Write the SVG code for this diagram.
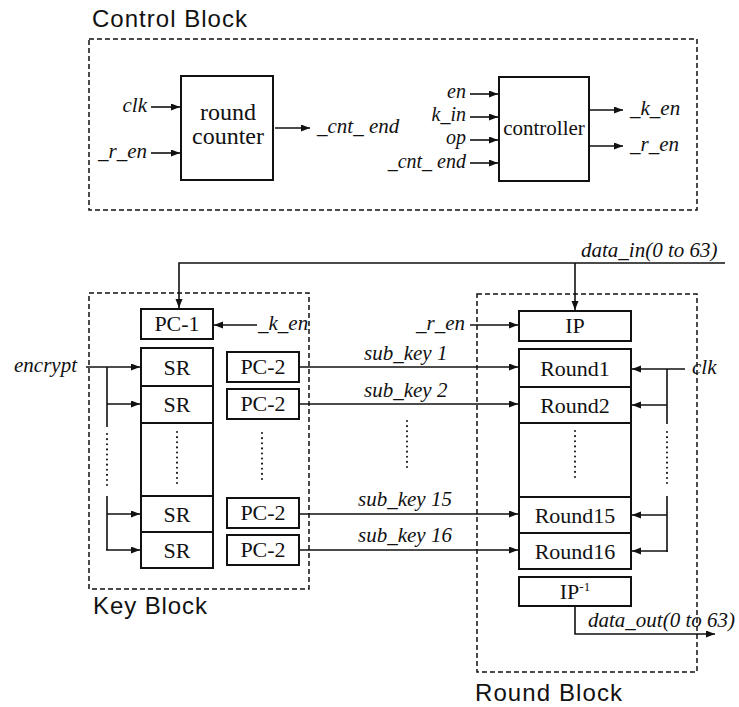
<svg xmlns="http://www.w3.org/2000/svg" width="739" height="707" viewBox="0 0 739 707">
<style>
.bg{fill:#fff}
.title{font-family:"Liberation Sans",Arial,sans-serif;font-size:24px;fill:#111}
.box{fill:#fff;stroke:#111;stroke-width:2}
.dash{fill:none;stroke:#111;stroke-width:1.5;stroke-dasharray:5,3}
.bt{font-family:"Liberation Serif","Times New Roman",serif;font-size:22px;fill:#111;text-anchor:middle}
.lbl{font-family:"Liberation Serif","Times New Roman",serif;font-style:italic;font-size:21px;fill:#111}
.sm{font-size:20px}
.end{text-anchor:end}
.ln{fill:none;stroke:#111;stroke-width:1.6}
.arr{marker-end:url(#ah)}
.dot{fill:none;stroke:#111;stroke-width:2;stroke-dasharray:0.1,5;stroke-linecap:round}
</style>
<defs>
<marker id="ah" markerUnits="userSpaceOnUse" markerWidth="10" markerHeight="8" refX="9" refY="3.5" orient="auto">
<path d="M0,0 L9,3.5 L0,7 z" fill="#111"/>
</marker>
</defs>
<rect class="bg" x="0" y="0" width="739" height="707"/>

<g id="control-block">
<text class="title" x="92" y="27" textLength="155" lengthAdjust="spacing">Control Block</text>
<rect class="dash" x="89" y="39" width="608" height="171"/>
</g>
<g id="round-counter">
<rect class="box" x="181" y="76" width="92" height="104"/>
<text class="bt" x="228" y="120" style="font-size:24px">round</text>
<text class="bt" x="228" y="144" style="font-size:24px">counter</text>
</g>
<g id="controller">
<rect class="box" x="499" y="77" width="90" height="104"/>
<text class="bt" x="544" y="135" style="font-size:21px">controller</text>
</g>

<g id="key-block">
<rect class="dash" x="89" y="293" width="220" height="296"/>
<text class="title" x="93" y="614" textLength="114" lengthAdjust="spacing">Key Block</text>
</g>
<g id="pc1">
<rect class="box" x="141" y="309" width="72" height="30"/>
<text class="bt" x="177" y="331">PC-1</text>
</g>
<g id="sr-column">
<rect class="box" x="141" y="348" width="72" height="220"/>
<line class="ln" x1="141" y1="386" x2="213" y2="386" style="stroke-width:2"/>
<line class="ln" x1="141" y1="423" x2="213" y2="423" style="stroke-width:2"/>
<line class="ln" x1="141" y1="496" x2="213" y2="496" style="stroke-width:2"/>
<line class="ln" x1="141" y1="532" x2="213" y2="532" style="stroke-width:2"/>
<text class="bt" x="177" y="375">SR</text>
<text class="bt" x="177" y="412">SR</text>
<text class="bt" x="177" y="522">SR</text>
<text class="bt" x="177" y="558">SR</text>
<line class="dot" x1="177" y1="432" x2="177" y2="485"/>
</g>
<g id="pc2-1"><rect class="box" x="227" y="352" width="72" height="30"/><text class="bt" x="263" y="374">PC-2</text></g>
<g id="pc2-2"><rect class="box" x="227" y="389" width="72" height="30"/><text class="bt" x="263" y="411">PC-2</text></g>
<g id="pc2-15"><rect class="box" x="227" y="498" width="72" height="30"/><text class="bt" x="263" y="520">PC-2</text></g>
<g id="pc2-16"><rect class="box" x="227" y="535" width="72" height="30"/><text class="bt" x="263" y="557">PC-2</text></g>
<line class="dot" x1="262" y1="433" x2="262" y2="484"/>

<g id="round-block">
<rect class="dash" x="477" y="294" width="220" height="378"/>
<text class="title" x="475" y="701" textLength="147" lengthAdjust="spacing">Round Block</text>
</g>
<g id="ip">
<rect class="box" x="519" y="311" width="112" height="30"/>
<text class="bt" x="575" y="333">IP</text>
</g>
<g id="rounds">
<rect class="box" x="519" y="349" width="112" height="220"/>
<line class="ln" x1="519" y1="387" x2="631" y2="387" style="stroke-width:2"/>
<line class="ln" x1="519" y1="423" x2="631" y2="423" style="stroke-width:2"/>
<line class="ln" x1="519" y1="497" x2="631" y2="497" style="stroke-width:2"/>
<line class="ln" x1="519" y1="533" x2="631" y2="533" style="stroke-width:2"/>
<text class="bt" x="575" y="376">Round1</text>
<text class="bt" x="575" y="413">Round2</text>
<text class="bt" x="575" y="523">Round15</text>
<text class="bt" x="575" y="559">Round16</text>
<line class="dot" x1="575" y1="431" x2="575" y2="482"/>
</g>
<g id="ip-inv">
<rect class="box" x="519" y="577" width="112" height="29"/>
<text class="bt" x="575" y="599">IP<tspan dy="-8" style="font-size:13px">-1</tspan></text>
</g>

<g id="connectors">
<!-- control block -->
<line class="ln arr" x1="151" y1="107" x2="180" y2="107"/>
<line class="ln arr" x1="151" y1="153" x2="180" y2="153"/>
<line class="ln arr" x1="275" y1="128" x2="310" y2="128"/>
<line class="ln arr" x1="470" y1="94" x2="498" y2="94"/>
<line class="ln arr" x1="470" y1="117" x2="498" y2="117"/>
<line class="ln arr" x1="470" y1="140" x2="498" y2="140"/>
<line class="ln arr" x1="470" y1="163" x2="498" y2="163"/>
<line class="ln arr" x1="590" y1="110" x2="623" y2="110"/>
<line class="ln arr" x1="590" y1="146" x2="623" y2="146"/>
<!-- data_in -->
<polyline class="ln arr" points="725,263 179,263 179,308"/>
<line class="ln arr" x1="575" y1="263" x2="575" y2="310"/>
<!-- enables -->
<line class="ln arr" x1="257" y1="325" x2="214" y2="325"/>
<line class="ln arr" x1="470" y1="325" x2="518" y2="325"/>
<!-- encrypt -->
<line class="ln arr" x1="86" y1="367" x2="140" y2="367"/>
<line class="ln" x1="107" y1="367" x2="107" y2="427"/>
<line class="ln arr" x1="107" y1="404" x2="140" y2="404"/>
<line class="dot" x1="107" y1="434" x2="107" y2="486"/>
<line class="ln" x1="107" y1="496" x2="107" y2="550"/>
<line class="ln arr" x1="107" y1="514" x2="140" y2="514"/>
<line class="ln arr" x1="106" y1="550" x2="140" y2="550"/>
<!-- sub keys -->
<line class="ln arr" x1="299" y1="367" x2="518" y2="367"/>
<line class="ln arr" x1="299" y1="404" x2="518" y2="404"/>
<line class="ln arr" x1="299" y1="514" x2="518" y2="514"/>
<line class="ln arr" x1="299" y1="550" x2="518" y2="550"/>
<line class="dot" x1="407" y1="421" x2="407" y2="472"/>
<!-- clk -->
<line class="ln arr" x1="685" y1="369" x2="632" y2="369"/>
<line class="ln" x1="667" y1="369" x2="667" y2="424"/>
<line class="ln arr" x1="667" y1="405" x2="632" y2="405"/>
<line class="dot" x1="667" y1="432" x2="667" y2="488"/>
<line class="ln" x1="667" y1="496" x2="667" y2="552"/>
<line class="ln arr" x1="667" y1="515" x2="632" y2="515"/>
<line class="ln arr" x1="668" y1="551" x2="632" y2="551"/>
<!-- data_out -->
<polyline class="ln arr" points="575,606 575,634 715,634"/>
</g>

<g id="labels">
<text class="lbl end" x="147" y="112">clk</text>
<text class="lbl end" x="147" y="158">_r_en</text>
<text class="lbl" x="317" y="133">_cnt_ end</text>
<text class="lbl sm end" x="466" y="98">en</text>
<text class="lbl sm end" x="466" y="121">k_in</text>
<text class="lbl sm end" x="466" y="144">op</text>
<text class="lbl sm end" x="466" y="168">_cnt_ end</text>
<text class="lbl" x="630" y="115">_k_en</text>
<text class="lbl" x="630" y="151">_r_en</text>
<text class="lbl" x="581" y="257">data_in(0 to 63)</text>
<text class="lbl" x="258" y="330">_k_en</text>
<text class="lbl end" x="465" y="330">_r_en</text>
<text class="lbl end" x="77" y="372">encrypt</text>
<text class="lbl" x="364" y="360">sub_key 1</text>
<text class="lbl" x="364" y="397">sub_key 2</text>
<text class="lbl" x="358" y="506">sub_key 15</text>
<text class="lbl" x="358" y="542">sub_key 16</text>
<text class="lbl" x="692" y="374">clk</text>
<text class="lbl" x="588" y="627">data_out(0 to 63)</text>
</g>
</svg>
